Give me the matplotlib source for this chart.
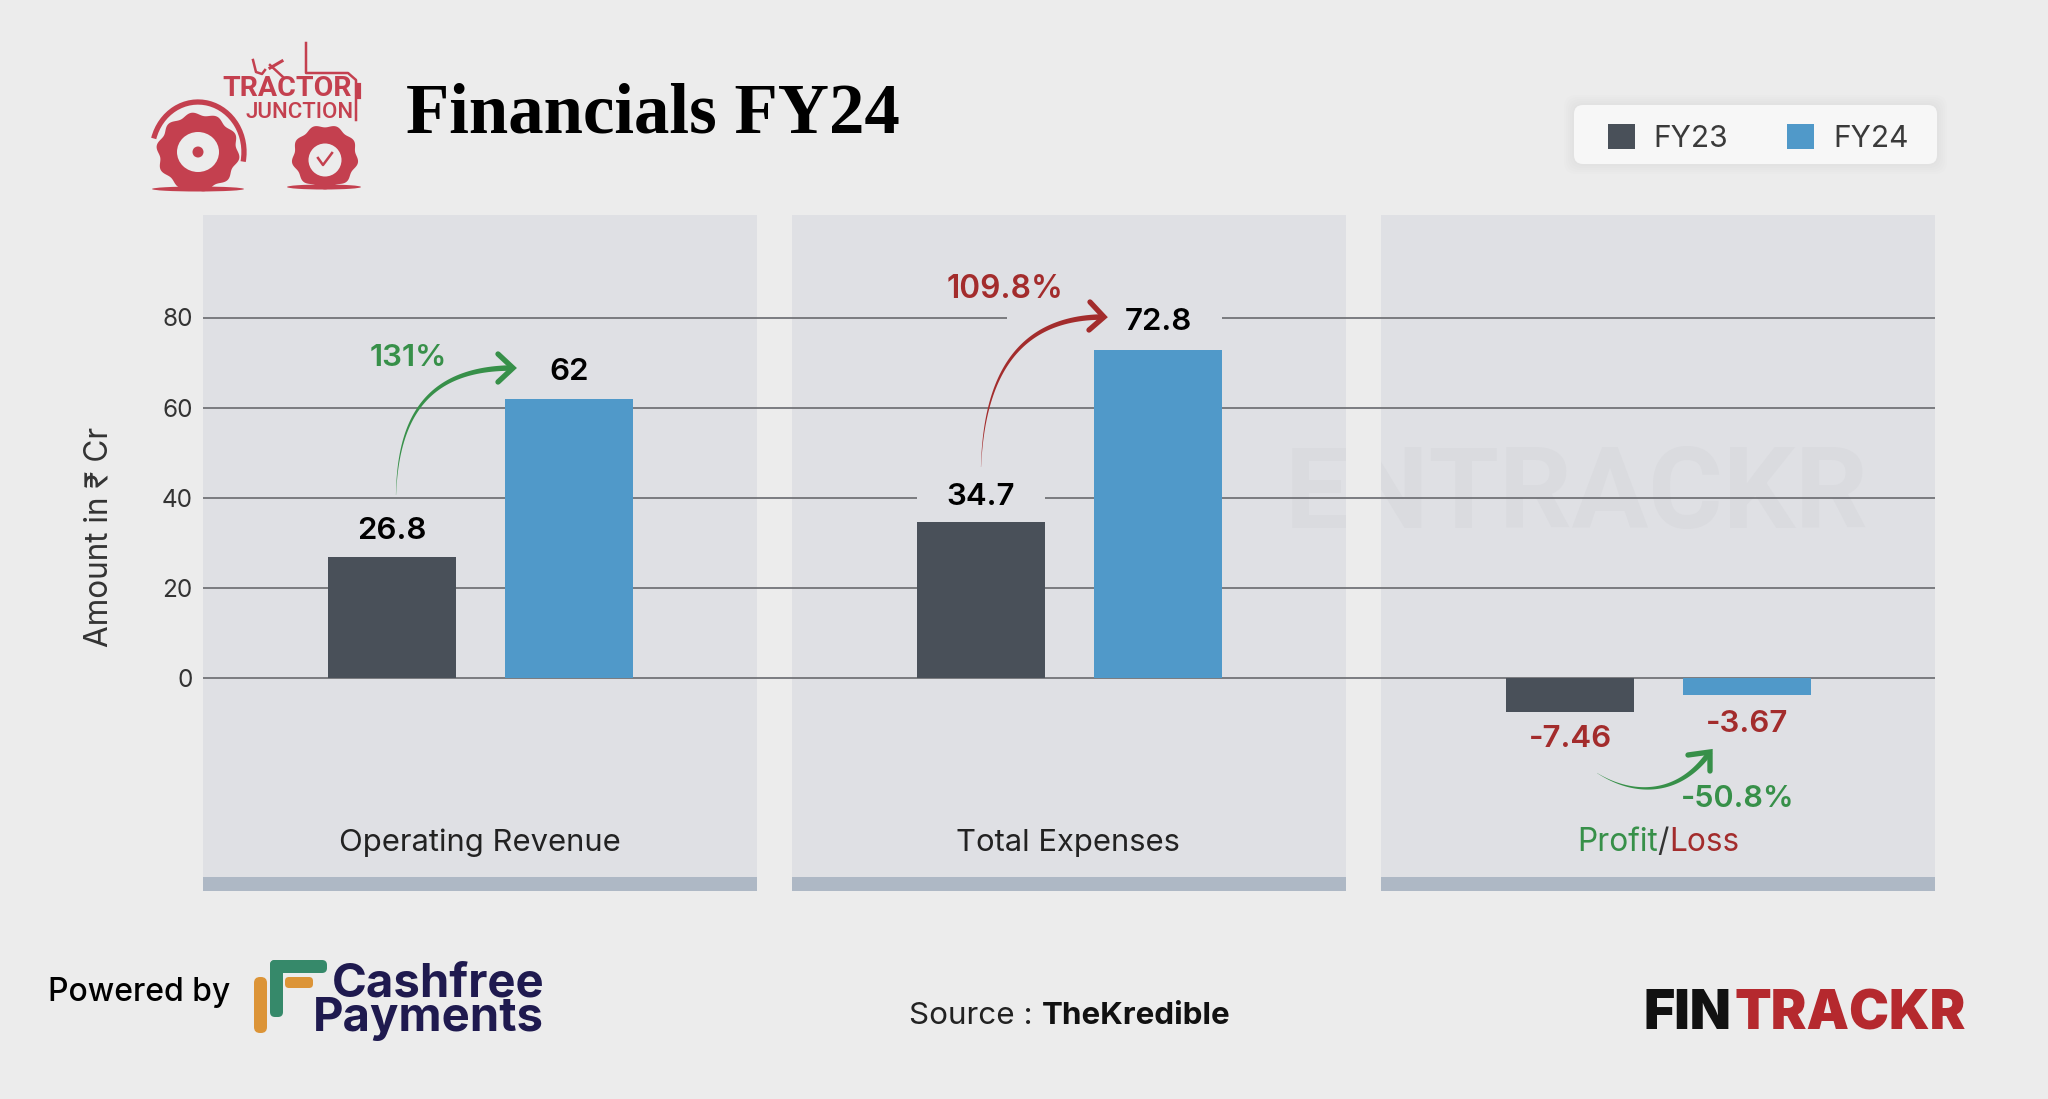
import matplotlib
matplotlib.use('Agg')
import matplotlib.pyplot as plt
import numpy as np
from matplotlib.patches import FancyBboxPatch, Polygon, Rectangle, Circle, Ellipse, Arc

# values
panels = ['Operating Revenue', 'Total Expenses', 'Profit/Loss']
fy23 = [26.8, 34.7, -7.46]
fy24 = [62, 72.8, -3.67]
fy23_labels = ['26.8', '34.7', '-7.46']
fy24_labels = ['62', '72.8', '-3.67']
changes = ['131%', '109.8%', '-50.8%']
yticks = [0, 20, 40, 60, 80]

# label offsets from the bar end, in points
off23 = [19, 17.5, -20]
off24 = [19, 20, -21]

BG = '#ececec'
PANEL = '#dfe0e4'
STRIP = '#aeb8c5'
DARK = '#495059'
BLUE = '#5099c9'
GREEN = '#379049'
RED = '#a32c2c'
LOGO_RED = '#c4404f'
NAVY = '#1f1a4f'
TEXT = '#222222'
SANS = ['Inter', 'DejaVu Sans']
ROBOTO = ['Roboto', 'DejaVu Sans']

plt.rcParams['font.family'] = SANS

W, H = 2048, 1099
fig = plt.figure(figsize=(W / 100, H / 100), dpi=100, facecolor=BG)


def pixel_axes(zorder):
    # full figure axes in pixel coordinates, y going down
    a = fig.add_axes([0, 0, 1, 1], facecolor='none')
    a.set_xlim(0, W)
    a.set_ylim(H, 0)
    a.axis('off')
    a.set_zorder(zorder)
    return a


bg = pixel_axes(0)
top = pixel_axes(2)

PANEL_LEFT, PANEL_W, PANEL_STEP = 202.5, 554, 589.2
AX_TOP, AX_BOTTOM, AX_RIGHT = 215, 891, 1935
for i in range(3):
    left = PANEL_LEFT + i * PANEL_STEP
    bg.add_patch(Rectangle((left, AX_TOP), PANEL_W, AX_BOTTOM - AX_TOP, color=PANEL, lw=0, zorder=1))
    bg.add_patch(Rectangle((left, 877), PANEL_W, AX_BOTTOM - 877, color=STRIP, lw=0, zorder=1))

# watermark sits on the panels, the gap between them hides part of it
bg.text(1577, 497, 'ENTRACKR', fontsize=82, ha='center', va='center', color='#dadbdf', fontweight='bold',
        family=ROBOTO, zorder=2)
bg.add_patch(Rectangle((PANEL_LEFT + PANEL_W + PANEL_STEP, AX_TOP), PANEL_STEP - PANEL_W, AX_BOTTOM - AX_TOP,
                       color=BG, lw=0, zorder=3))

# main chart: one axes over all panels, one x unit per panel step
ax = fig.add_axes([PANEL_LEFT / W, 1 - AX_BOTTOM / H, (AX_RIGHT - PANEL_LEFT) / W, (AX_BOTTOM - AX_TOP) / H])
ax.set_zorder(1)
ax.patch.set_alpha(0)
px_per_unit = 360.5 / 80
ax.set_ylim((678 - AX_BOTTOM) / px_per_unit, (678 - AX_TOP) / px_per_unit)
ax.set_xlim(0, (AX_RIGHT - PANEL_LEFT) / PANEL_STEP)
for side in ax.spines.values():
    side.set_visible(False)
ax.set_xticks([])
ax.set_yticks(yticks)
ax.tick_params(axis='y', length=0, pad=7, labelsize=17.5, labelcolor='#333333')
ax.set_axisbelow(True)
ax.yaxis.grid(True, color='#6d6e73', lw=1.25)

x = np.arange(3)
pos23 = x + 0.321
pos24 = x + 0.622
bar_w = 0.217
ax.bar(pos23, fy23, bar_w, color=DARK, label='FY23', zorder=3)
ax.bar(pos24, fy24, bar_w, color=BLUE, label='FY24', zorder=3)

# gridline breaks behind the two labels that sit on a line
ax.add_patch(Rectangle((pos23[1] - bar_w / 2, 38), bar_w, 4, color=PANEL, lw=0, zorder=1))
ax.add_patch(Rectangle((1.365, 78), pos24[1] + bar_w / 2 - 1.365, 4, color=PANEL, lw=0, zorder=1))

ax.set_ylabel('Amount in ₹ Cr', fontsize=22.7, color='#333333', labelpad=0)
ax.yaxis.set_label_coords((114 - PANEL_LEFT) / (AX_RIGHT - PANEL_LEFT), 1 - (537 - AX_TOP) / (AX_BOTTOM - AX_TOP))

for i in range(3):
    c = RED if fy23[i] < 0 else 'black'
    ax.annotate(fy23_labels[i], (pos23[i], fy23[i]), xytext=(0, off23[i]), textcoords='offset points',
                ha='center', va='center', fontsize=22.5, color=c, fontweight='semibold', zorder=4)
    ax.annotate(fy24_labels[i], (pos24[i], fy24[i]), xytext=(0, off24[i]), textcoords='offset points',
                ha='center', va='center', fontsize=22.5, color=c, fontweight='semibold', zorder=4)

# legend box with a soft shadow, the legend itself has no frame
for w in range(1, 6):
    bg.add_patch(FancyBboxPatch((1574, 105), 363, 59, boxstyle='round,pad=%d,rounding_size=12' % (w * 2),
                                fc='#000000', ec='none', alpha=0.008, zorder=1))
bg.add_patch(FancyBboxPatch((1574, 105), 363, 59, boxstyle='round,pad=0,rounding_size=9',
                            fc='#f7f7f7', ec='none', zorder=2))
fig.legend(loc='center right', bbox_to_anchor=(1908.5 / W, 1 - 138.5 / H), ncol=2, fontsize=21.5,
           handlelength=0.9, handleheight=0.9, handletextpad=0.63, columnspacing=1.97,
           borderpad=0, borderaxespad=0, labelcolor='#3a3a3a', frameon=False)


def tapered_arrow(a, p0, c1, c2, p3, tip1, tip2, color, max_w=5.5):
    # bezier stroke that swells from nothing at the start, in pixel coordinates
    t = np.linspace(0, 1, 60)[:, None]
    p0, c1, c2, p3 = [np.array(p, float) for p in (p0, c1, c2, p3)]
    pts = (1 - t) ** 3 * p0 + 3 * (1 - t) ** 2 * t * c1 + 3 * (1 - t) * t ** 2 * c2 + t ** 3 * p3
    d = np.gradient(pts, axis=0)
    n = np.column_stack([-d[:, 1], d[:, 0]]) / np.linalg.norm(d, axis=1)[:, None]
    half = (0.15 + t * max_w) / 2
    a.add_patch(Polygon(np.vstack([pts + n * half, (pts - n * half)[::-1]]), fc=color, ec='none', zorder=5))
    a.plot([tip1[0], p3[0], tip2[0]], [tip1[1], p3[1], tip2[1]], color=color, lw=max_w * 0.7,
           solid_capstyle='round', solid_joinstyle='miter', zorder=5)


tapered_arrow(top, (396, 495), (398, 420), (425, 368), (513, 368), (498, 354), (498, 382), GREEN)
tapered_arrow(top, (981, 467), (984, 380), (1015, 317), (1104, 317), (1090, 302), (1089, 330), RED)
tapered_arrow(top, (1597, 773), (1635, 797), (1680, 795), (1710, 752), (1688, 755), (1710, 771), GREEN)

top.text(408, 358, changes[0], color=GREEN, fontsize=22.5, ha='center', va='center', fontweight='semibold')
top.text(1005, 289, changes[1], color=RED, fontsize=22.8, ha='center', va='center', fontweight='semibold')
top.text(1738, 799, changes[2], color=GREEN, fontsize=22, ha='center', va='center', fontweight='semibold')

# panel names
top.text(479.5, 843, panels[0], fontsize=22.3, ha='center', va='center', color=TEXT)
top.text(1068, 843, panels[1], fontsize=22.3, ha='center', va='center', color=TEXT)
a, b = panels[2].split('/')
t1 = top.text(1577, 851, a, fontsize=22.8, ha='left', va='baseline', color=GREEN)
t2 = top.annotate('/', xy=(1, 0), xycoords=t1, va='bottom', fontsize=22.8, color='#333333')
top.annotate(b, xy=(1, 0), xycoords=t2, va='bottom', fontsize=22.8, color=RED)

# title
bg.text(406, 115, 'Financials FY24', fontsize=51, ha='left', va='center', color='black', fontweight='bold',
        family=['Liberation Serif', 'DejaVu Serif'])

# footer
bg.text(48, 993, 'Powered by', fontsize=23, ha='left', va='center', color='black', fontweight='medium')
s1 = bg.text(909, 1016, 'Source : ', fontsize=22.6, ha='left', va='center', color=TEXT)
bg.annotate('TheKredible', xy=(1, 0), xycoords=s1, va='bottom', fontsize=22.6, color='#111111', fontweight='bold')

bg.text(1643, 1029, 'FIN', fontsize=38.5, ha='left', va='baseline', color='#111111', fontweight='black')
bg.text(1734, 1029, 'TRACKR', fontsize=38.5, ha='left', va='baseline', color='#b5292e', fontweight='black')

# cashfree mark and wordmark
bg.add_patch(FancyBboxPatch((254, 977), 13, 56, boxstyle='round,pad=0,rounding_size=6', fc='#dc9437', ec='none'))
bg.add_patch(FancyBboxPatch((285, 977), 28, 11, boxstyle='round,pad=0,rounding_size=4', fc='#dc9437', ec='none'))
bg.add_patch(FancyBboxPatch((270, 960), 13, 57, boxstyle='round,pad=0,rounding_size=5', fc='#36896a', ec='none'))
bg.add_patch(FancyBboxPatch((270, 960), 57, 13, boxstyle='round,pad=0,rounding_size=5', fc='#36896a', ec='none'))
bg.text(544, 1002, 'Cashfree\nPayments', fontsize=34, ha='right', va='center', color=NAVY, fontweight='bold',
        linespacing=0.72)


def cog(cx, cy, rx, ry, teeth):
    ang = np.linspace(0, 2 * np.pi, 240)
    r = 1 + 0.045 * np.sin(teeth * ang)
    return np.column_stack([cx + rx * r * np.cos(ang), cy + ry * r * np.sin(ang)])


# tractor junction logo
bg.add_patch(Polygon(cog(198, 152, 40, 38, 10), fc=LOGO_RED, ec='none'))
bg.add_patch(Ellipse((198, 152), 42, 40, fc=BG, ec='none'))
bg.add_patch(Circle((198, 152), 5.5, fc=LOGO_RED, ec='none'))
bg.add_patch(Ellipse((198, 189), 92, 5, fc=LOGO_RED, ec='none'))
bg.add_patch(Arc((198, 152), 92, 100, theta1=197, theta2=372, color=LOGO_RED, lw=3.8))
bg.add_patch(Polygon(cog(325, 157, 32, 31, 9), fc=LOGO_RED, ec='none'))
bg.add_patch(Ellipse((325, 160), 33, 33, fc=BG, ec='none'))
bg.add_patch(Ellipse((324, 187), 74, 5, fc=LOGO_RED, ec='none'))
bg.plot([318, 323, 332], [158, 165, 153], color=LOGO_RED, lw=1.8)
bg.plot([306, 306, 348, 356, 356], [43, 73, 73, 80, 120], color=LOGO_RED, lw=1.8)
bg.plot([359, 359], [85, 97], color=LOGO_RED, lw=3)
bg.plot([270, 283], [65, 77], color=LOGO_RED, lw=1.8)
bg.plot([270, 282], [68, 61], color=LOGO_RED, lw=2.2)
bg.plot([253, 256, 262, 265], [60, 72, 74, 70], color=LOGO_RED, lw=1.8)
bg.text(287, 89, 'TRACTOR', fontsize=20.5, ha='center', va='center', color=LOGO_RED, fontweight='bold', family=ROBOTO)
bg.text(300, 112.5, 'JUNCTION', fontsize=16, ha='center', va='center', color=LOGO_RED, fontweight='medium', family=ROBOTO)

fig.savefig('out.png', dpi=100, facecolor=BG)
